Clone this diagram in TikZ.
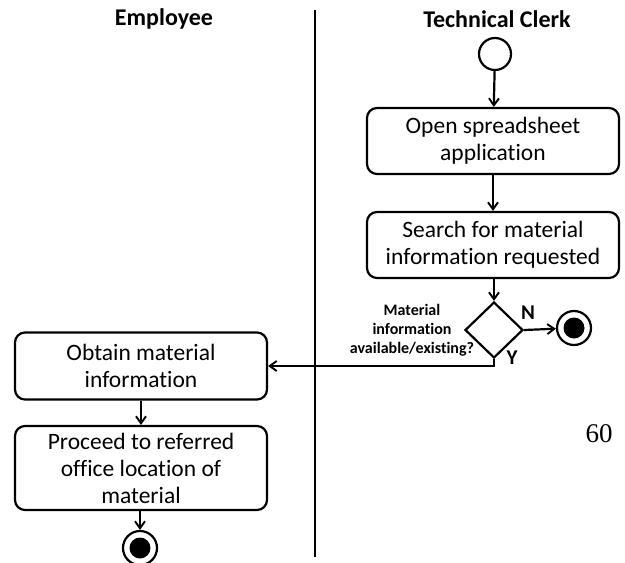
\documentclass[tikz,border=0pt]{standalone}
\usepackage{fontspec}
\setmainfont[Ligatures=NoCommon]{Carlito}
\newfontfamily\pgserif{Liberation Serif}
\usetikzlibrary{arrows.meta,shapes.geometric,calc}
\begin{document}
\begin{tikzpicture}[x=1pt,y=-1pt,
  line width=2.2pt,
  act/.style={draw,rounded corners=10pt,minimum width=252pt,align=center,inner sep=0pt,font=\fontsize{23.5}{27}\selectfont},
  lane/.style={font=\bfseries\fontsize{24}{26}\selectfont},
  arr/.style={-{Straight Barb[length=7pt,width=10pt,line width=1.9pt]}},
  startn/.style={circle,draw,minimum size=32pt,inner sep=0pt},
  endn/.style={circle,draw,minimum size=34pt,inner sep=0pt,path picture={\fill (path picture bounding box.center) circle (10.5pt);}},
  dec/.style={diamond,draw,minimum width=58pt,minimum height=56pt,inner sep=0pt},
  lbl/.style={font=\bfseries\fontsize{21}{22}\selectfont}
]
\useasboundingbox (0,0) rectangle (625,563);
\node[lane] (emp) at (164,19) {Employee};
\node[lane] (tc) at (497,19) {Technical Clerk};
\coordinate (dtop) at (315,10);
\coordinate (dbot) at (315,557);
\draw (dtop) -- (dbot);

\node[startn] (start) at (495,54) {};
\node[act,minimum height=66pt] (open) at (493,141) {Open spreadsheet\\application};
\node[act,minimum height=66pt] (search) at (493,245) {Search for material\\information requested};
\node[dec] (d) at (494,330) {};
\node[endn] (end1) at (574,328) {};
\node[lbl] (n) at (528,313) {N};
\node[lbl] (y) at (512,358) {Y};
\node[align=center,font=\bfseries\fontsize{16}{19}\selectfont] (q) at (412,330) {Material\\information\\available/existing?};

\node[act,minimum height=67pt] (obtain) at (141,366) {Obtain material\\information};
\node[act,minimum height=84pt] (proceed) at (141,468) {Proceed to referred\\office location of\\material};
\node[endn] (end2) at (140,548) {};

\node[font=\pgserif\fontsize{27}{30}\selectfont] (pg) at (599,434) {60};

\draw[arr] (start) -- (open);
\draw[arr] (open) -- (search);
\draw[arr] (search.south -| d.north) -- (d.north);
\draw[arr] (d.east) -- (end1);
\draw[arr] (d.south) |- (obtain.east);
\draw[arr] (obtain) -- (proceed);
\draw[arr] (proceed.south -| end2) -- (end2);
\end{tikzpicture}
\end{document}
